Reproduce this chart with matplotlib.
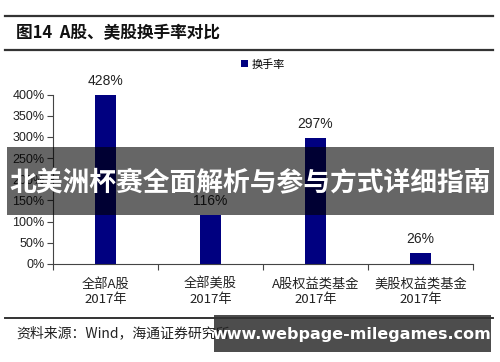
import matplotlib.pyplot as plt
from matplotlib.patches import Rectangle
from matplotlib.lines import Line2D

plt.rcParams['font.family'] = ['Noto Sans CJK SC', 'DejaVu Sans']

# Data
categories = ["全部A股\n2017年", "全部美股\n2017年", "A股权益类基金\n2017年", "美股权益类基金\n2017年"]
turnover = [428, 116, 297, 26]
yticks = [0, 50, 100, 150, 200, 250, 300, 350, 400]

W, H = 500, 362
fig = plt.figure(figsize=(5, 3.62), dpi=100)
fig.patch.set_facecolor("white")

def fx(px):
    return px / W

def fy(py):
    return 1 - py / H

# header lines and title
for py in (16, 50):
    fig.add_artist(Line2D([fx(5), fx(493)], [fy(py), fy(py)], color="#333333", lw=1.6))
fig.text(fx(16), fy(33), "图14  A股、美股换手率对比", fontsize=12, fontweight="bold",
         va="center", ha="left", color="#111111")

# axes
ax = fig.add_axes([fx(53), fy(264), fx(473 - 53), (264 - 94.5) / H])
x = list(range(len(categories)))
ax.bar(x, turnover, width=0.2, color="#000080", label="换手率")
ymax = 400
for xi, v in zip(x, turnover):
    ax.annotate(f"{v}%", (xi, min(v, ymax)), xytext=(0, 5), textcoords="offset points",
                ha="center", va="bottom", fontsize=10, color="#222222",
                family="Liberation Sans", annotation_clip=False)

ax.set_xlim(-0.5, len(categories) - 0.5)
ax.set_ylim(0, ymax)
ax.set_yticks(yticks)
ax.set_yticklabels([f"{t}%" for t in yticks], family="Liberation Sans", fontsize=9, color="#222222")
ax.set_xticks([i - 0.5 for i in range(len(categories) + 1)])
ax.set_xticklabels([])
ax.set_xticks(x, minor=True)
ax.set_xticklabels(categories, minor=True, fontsize=9.5, color="#222222", linespacing=1.2)
ax.tick_params(axis="x", which="minor", length=0, pad=10)
ax.tick_params(axis="x", which="major", length=4, direction="out", color="#444444")
ax.tick_params(axis="y", length=4, direction="out", color="#444444", pad=2)
for s in ("top", "right"):
    ax.spines[s].set_visible(False)
ax.spines["left"].set_color("#444444")
ax.spines["bottom"].set_color("#444444")

leg = ax.legend(loc="upper center", bbox_to_anchor=(0.5, 1.27), frameon=False, fontsize=8,
                handlelength=0.6, handleheight=0.6, handletextpad=0.3)

# footer
fig.add_artist(Line2D([fx(5), fx(493)], [fy(318), fy(318)], color="#333333", lw=1.4))
fig.text(fx(16), fy(333), "资料来源：Wind，海通证券研究所", fontsize=10, va="center",
         ha="left", color="#222222")

# overlay banner
fig.add_artist(Rectangle((fx(7), fy(215)), fx(494 - 7), (215 - 147) / H,
                         transform=fig.transFigure, color="black", alpha=0.6, lw=0))
fig.text(fx(250), fy(183), "北美洲杯赛全面解析与参与方式详细指南", fontsize=19.3,
         fontweight="bold", color="white", ha="center", va="center")

# watermark box
fig.add_artist(Rectangle((fx(214), fy(352)), fx(491 - 214), (352 - 315) / H,
                         transform=fig.transFigure, color="#3a3a3a", alpha=0.9, lw=0))
fig.text(fx(352), fy(334), "www.webpage-milegames.com", fontsize=11.5, fontweight="bold",
         color="white", ha="center", va="center", family="DejaVu Sans")

fig.savefig("out.png", dpi=100)
